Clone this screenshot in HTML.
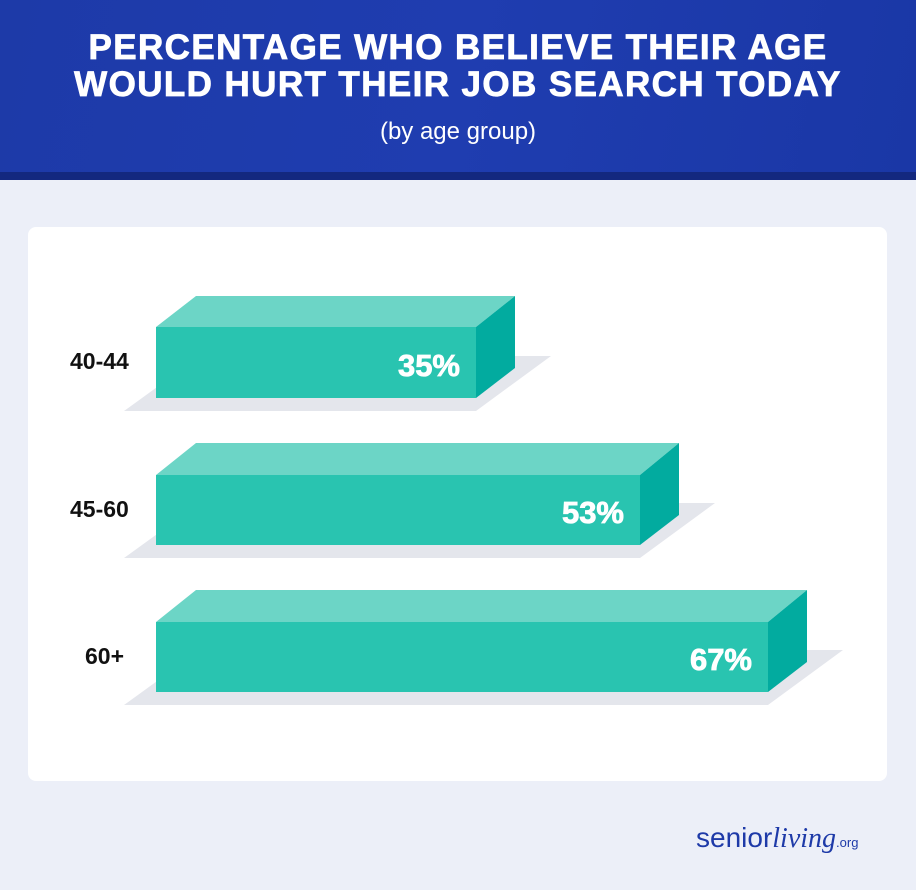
<!DOCTYPE html>
<html><head><style>
body{margin:0;width:916px;height:890px;background:#eceff8;font-family:"Liberation Sans",sans-serif;overflow:hidden;position:relative}
.hdr{position:absolute;left:0;top:0;width:916px;height:172px;background:linear-gradient(100deg,#1d3aa8 0%,#1f3db0 50%,#1a37a6 100%);border-bottom:8px solid #13287f}
.t{position:absolute;width:916px;text-align:center;color:#fff;font-weight:bold;font-size:35px;letter-spacing:1.4px;line-height:37px;top:29px;-webkit-text-stroke:0.8px #fff}
.s{position:absolute;width:916px;text-align:center;color:#fff;font-size:24px;top:118px}
.card{position:absolute;left:28px;top:227px;width:859px;height:554px;background:#fff;border-radius:8px}
.lbl{position:absolute;font-weight:bold;font-size:23px;color:#111;}
.logo{position:absolute;left:696px;top:822px;color:#1e3aa8;font-size:28px}
</style></head><body>
<div class="hdr"></div>
<div class="t">PERCENTAGE WHO BELIEVE THEIR AGE<br>WOULD HURT THEIR JOB SEARCH TODAY</div>
<div class="s">(by age group)</div>
<div class="card"></div>
<svg width="916" height="890" style="position:absolute;left:0;top:0">
<g font-family="Liberation Sans" font-weight="bold" font-size="31" fill="#fff" stroke="#fff" stroke-width="0.8" text-anchor="end">
<polygon points="124,411 476,411 551,356 200,356" fill="#e4e6ec" stroke="none"/>
<polygon points="156,327 196,296 515,296 476,327" fill="#6cd5c6" stroke="none"/>
<polygon points="476,327 515,296 515,368 476,398" fill="#02ab9f" stroke="none"/>
<rect x="156" y="327" width="320" height="71" fill="#29c4b0" stroke="none"/>
<text x="460" y="376">35%</text>
<polygon points="124,558 640,558 715,503 200,503" fill="#e4e6ec" stroke="none"/>
<polygon points="156,475 196,443 679,443 640,475" fill="#6cd5c6" stroke="none"/>
<polygon points="640,475 679,443 679,515 640,545" fill="#02ab9f" stroke="none"/>
<rect x="156" y="475" width="484" height="70" fill="#29c4b0" stroke="none"/>
<text x="624" y="523">53%</text>
<polygon points="124,705 768,705 843,650 200,650" fill="#e4e6ec" stroke="none"/>
<polygon points="156,622 196,590 807,590 768,622" fill="#6cd5c6" stroke="none"/>
<polygon points="768,622 807,590 807,662 768,692" fill="#02ab9f" stroke="none"/>
<rect x="156" y="622" width="612" height="70" fill="#29c4b0" stroke="none"/>
<text x="752" y="670">67%</text>
</g></svg>
<div class="lbl" style="left:70px;top:348px">40-44</div>
<div class="lbl" style="left:70px;top:496px">45-60</div>
<div class="lbl" style="left:85px;top:643px">60+</div>
<div class="logo">senior<span style="font-family:'Liberation Serif',serif;font-style:italic">living</span><span style="font-size:13px">.org</span></div>
</body></html>
